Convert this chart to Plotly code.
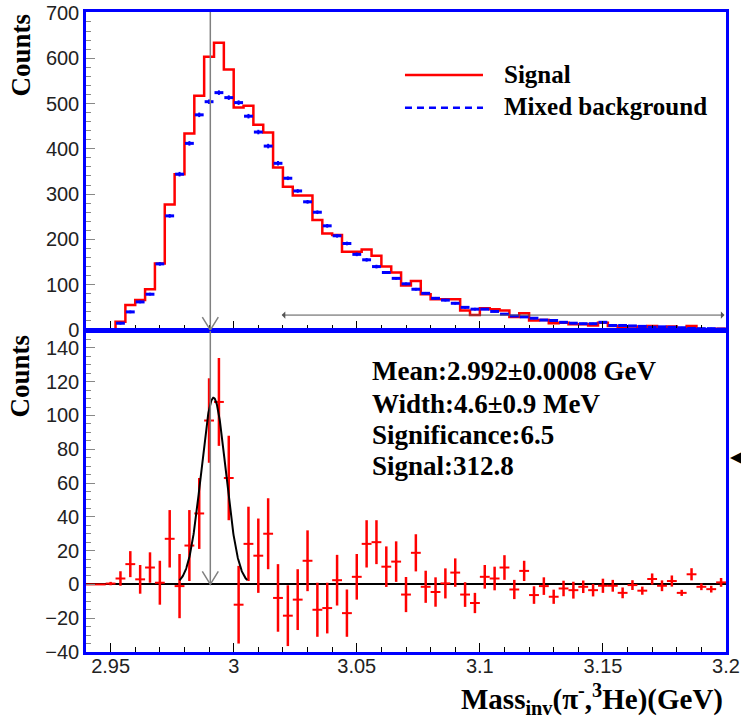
import numpy as np
import plotly.graph_objects as go

# ---------------- data ----------------
BIN_LO = 2.94
BIN_W = 0.004
N_BINS = 65

signal = [0, 0, 0, 18, 55, 66, 90, 147, 277, 344,
          434, 517, 603, 634, 575, 491, 495, 453, 436, 359,
          316, 297, 297, 243, 213, 210, 173, 173, 178, 164,
          140, 127, 98, 108, 79, 68, 68, 68, 43, 33,
          48, 46, 43, 29, 37, 21, 22, 15, 16, 13,
          13, 10, 16, 9, 6, 8, 4.5, 9, 6, 8,
          1, 9, 1.5, 0.5, 3]

background = [None, None, None, 15, 40, 62, 79, 146, 252, 344,
              412, 475, 504, 524, 513, 502, 472, 437, 406, 368,
              335, 307, 283, 260, 230, 208, 191, 167, 155, 140,
              127, 114, 102, 90, 81, 70, 66, 59, 50, 46,
              46, 41, 35, 31, 29, 26, 22, 21, 17, 15,
              14, 14, 17, 10, 10, 9, 8, 6, 7, 6,
              5, 3.5, 3, 3, 2]

background_err = [0, 0, 0, 3, 3, 3, 3, 4, 4, 5,
                  5, 5, 5, 5, 5, 5, 5, 5, 5, 5,
                  4, 4, 4, 4, 4, 4, 4, 4, 4, 4,
                  3, 3, 3, 3, 3, 3, 3, 3, 3, 3,
                  2, 2, 2, 2, 2, 2, 2, 2, 2, 2,
                  2, 2, 2, 2, 2, 2, 2, 2, 2, 2,
                  2, 2, 2, 2, 2]

difference = [0, 0, 0.5, 3.5, 12, 3, 10, 1, 27, -1,
              23, 42, 97, 108, 63, -12, 24, 17, 30, -8,
              -18.5, -9, 14, -15, -14, 2.5, -17, 4.5, 24, 25,
              10.5, 13.5, -6, 18.7, -1.4, -4.5, 0.6, 7, -6, -11,
              4.5, 3.5, 10, -3, 8, -6.3, -1, -7.3, -2.4, -3.4,
              -1.4, -3.4, -0.8, -0.8, -5, -0.4, -3.7, 3.2, -0.8, 2,
              -5, 6, -1.4, -2.8, 1.2]

difference_err = [0, 0, 1, 4.3, 7.7, 8.5, 9, 13, 17, 19,
                  21, 21, 25, 26, 25, 23, 22, 22, 21, 20,
                  18, 18, 18, 16, 15, 15, 14, 13.5, 14, 13,
                  12, 12, 10.4, 11, 9.5, 8.7, 8.9, 8.4, 7.3, 6,
                  7, 7, 7.3, 5.7, 6, 5.2, 5.2, 4.2, 4.6, 5,
                  3.7, 3.7, 4.2, 3.5, 3.2, 2.9, 2.4, 3.3, 3.2, 3.3,
                  1.8, 3.6, 2, 2, 2.6]

# Gaussian fit parameters
fit_amp = 110.5
fit_mean = 2.9918
fit_sigma = 0.0050
fit_lo, fit_hi = 2.978, 3.0055

mean_marker = 2.9905
range_arrow_lo, range_arrow_hi, range_arrow_y = 3.0195, 3.2, 33

x_tick_vals = [2.95, 3.0, 3.05, 3.1, 3.15, 3.2]
x_tick_text = ["2.95", "3", "3.05", "3.1", "3.15", "3.2"]

stat_lines = ["Mean:2.992±0.0008 GeV", "Width:4.6±0.9 MeV",
              "Significance:6.5", "Signal:312.8"]

# ---------------- derived ----------------
edges = [BIN_LO + BIN_W * k for k in range(N_BINS + 1)]
centers = [BIN_LO + BIN_W * (k + 0.5) for k in range(N_BINS)]
fx = np.linspace(fit_lo, fit_hi, 200)
fy = fit_amp * np.exp(-0.5 * ((fx - fit_mean) / fit_sigma) ** 2)

SERIF = "Liberation Serif"
SANS = "Liberation Sans"
BLUE = "#0000ff"
RED = "#ff0000"

fig = go.Figure()

fig.add_trace(go.Scatter(
    x=edges, y=signal + [signal[-1]], mode="lines", line_shape="hv",
    line=dict(color=RED, width=2.5), name="Signal",
    xaxis="x", yaxis="y", showlegend=False))

fig.add_trace(go.Scatter(
    x=centers, y=background, mode="markers",
    marker=dict(size=1, color=BLUE),
    error_x=dict(type="constant", value=BIN_W * 0.45, width=0, thickness=3, color=BLUE),
    error_y=dict(type="data", array=background_err, width=0, thickness=2, color=BLUE),
    name="Mixed background", xaxis="x", yaxis="y", showlegend=False))

fig.add_trace(go.Scatter(
    x=centers, y=difference, mode="markers",
    marker=dict(size=1, color=RED),
    error_x=dict(type="constant", value=BIN_W / 2, width=0, thickness=2, color=RED),
    error_y=dict(type="data", array=difference_err, width=0, thickness=2.5, color=RED),
    name="Signal - background", xaxis="x2", yaxis="y2", showlegend=False))

fig.add_trace(go.Scatter(
    x=fx, y=fy, mode="lines", line=dict(color="black", width=2),
    name="Gaussian fit", xaxis="x2", yaxis="y2", showlegend=False))

top_dom = [0.5031, 1.0]
bot_dom = [0.0, 0.5016]

common_x = dict(range=[BIN_LO, BIN_LO + BIN_W * N_BINS], tickvals=x_tick_vals, ticktext=x_tick_text,
                ticks="inside", ticklen=9, tickcolor="black", tickwidth=1,
                minor=dict(dtick=0.01, tick0=2.95, ticks="inside", ticklen=5,
                           tickcolor="black", tickwidth=1, showgrid=False),
                showline=True, linecolor=BLUE, linewidth=2.5, mirror=True,
                showgrid=False, zeroline=False, automargin=False,
                tickfont=dict(family=SANS, size=20, color="#222"))
common_y = dict(ticks="inside", ticklen=9, tickcolor="#888", tickwidth=1,
                showline=True, linecolor=BLUE, linewidth=2.5, mirror=True,
                showgrid=False, automargin=False,
                tickfont=dict(family=SANS, size=20, color="#222"),
                ticklabelstandoff=0)

fig.update_layout(
    width=741, height=719,
    margin=dict(l=86, r=15, t=12, b=67),
    paper_bgcolor="white", plot_bgcolor="white",
    showlegend=False,
    xaxis=dict(**common_x, domain=[0, 1], anchor="y", showticklabels=False),
    yaxis=dict(**common_y, domain=top_dom, anchor="x", range=[0, 702],
               dtick=100, tick0=0, zeroline=False,
               minor=dict(dtick=20, ticks="inside", ticklen=5, tickcolor="#888", showgrid=False)),
    xaxis2=dict(**common_x, domain=[0, 1], anchor="y2", showticklabels=True,
                ticklabelstandoff=-6),
    yaxis2=dict(**common_y, domain=bot_dom, anchor="x2", range=[-40, 150],
                dtick=20, tick0=0, zeroline=True, zerolinecolor="black", zerolinewidth=1.5,
                minor=dict(dtick=5, ticks="inside", ticklen=5, tickcolor="#888", showgrid=False)),
)

shapes = [
    dict(type="line", xref="x", yref="y", x0=mean_marker, x1=mean_marker, y0=0, y1=702,
         line=dict(color="#808080", width=1.5)),
    dict(type="line", xref="x2", yref="y2", x0=mean_marker, x1=mean_marker, y0=0, y1=150,
         line=dict(color="#808080", width=1.5)),
    dict(type="path", xref="x", yref="y", xsizemode="pixel", ysizemode="pixel",
         xanchor=mean_marker, yanchor=0, path="M-8,13 L0,0 L8,13",
         line=dict(color="#808080", width=1.5)),
    dict(type="path", xref="x2", yref="y2", xsizemode="pixel", ysizemode="pixel",
         xanchor=mean_marker, yanchor=0, path="M-8,13 L0,0 L8,13",
         line=dict(color="#808080", width=1.5)),
    # legend samples
    dict(type="line", xref="paper", yref="paper", x0=0.4984, x1=0.6203, y0=0.9016, y1=0.9016,
         line=dict(color=RED, width=2.5)),
    dict(type="line", xref="paper", yref="paper", x0=0.4984, x1=0.6203, y0=0.8505, y1=0.8505,
         line=dict(color=BLUE, width=2.5, dash="7px,5px")),
]
fig.update_layout(shapes=shapes)

ann = []
# range arrow in top panel
ann.append(dict(x=range_arrow_lo, y=range_arrow_y, ax=range_arrow_hi, ay=range_arrow_y,
                xref="x", yref="y", axref="x", ayref="y", text="", showarrow=True,
                arrowhead=1, arrowside="end+start", arrowsize=1.2, arrowwidth=1,
                arrowcolor="#555"))
# legend texts
ann.append(dict(xref="paper", yref="paper", x=0.6500, y=0.9023, xanchor="left", yanchor="middle",
                text="<b>Signal</b>", showarrow=False,
                font=dict(family=SERIF, size=25, color="black")))
ann.append(dict(xref="paper", yref="paper", x=0.6500, y=0.8531, xanchor="left", yanchor="middle",
                text="<b>Mixed background</b>", showarrow=False,
                font=dict(family=SERIF, size=25, color="black")))
# stats text
for txt, yy in zip(stat_lines, [0.4391, 0.3880, 0.3390, 0.2906]):
    ann.append(dict(xref="paper", yref="paper", x=0.4445, y=yy, xanchor="left", yanchor="middle",
                    text="<b>" + txt + "</b>", showarrow=False,
                    font=dict(family=SERIF, size=27, color="black")))
# y titles
ann.append(dict(xref="paper", yref="paper", x=0, y=1.0, xanchor="center", yanchor="top",
                xshift=-66, yshift=0, textangle=-90, text="<b>Counts</b>", showarrow=False,
                font=dict(family=SERIF, size=27, color="black")))
ann.append(dict(xref="paper", yref="paper", x=0, y=0.5016, xanchor="center", yanchor="top",
                xshift=-66, yshift=-2, textangle=-90, text="<b>Counts</b>", showarrow=False,
                font=dict(family=SERIF, size=27, color="black")))
# x title
ann.append(dict(xref="paper", yref="paper", x=0.9984, y=-0.0734, xanchor="right", yanchor="middle",
                text="<b>Mass<sub>inv</sub>(π<sup>-</sup>,<sup>3</sup>He)(GeV)</b>", showarrow=False,
                font=dict(family=SERIF, size=29, color="black")))
# small pointer triangle at right edge
ann.append(dict(xref="paper", yref="paper", x=1.0035, y=0.305, xanchor="left", yanchor="middle",
                text="◀", showarrow=False, font=dict(family="DejaVu Sans", size=15, color="black")))
fig.update_layout(annotations=ann)

fig.write_html("out.html")
